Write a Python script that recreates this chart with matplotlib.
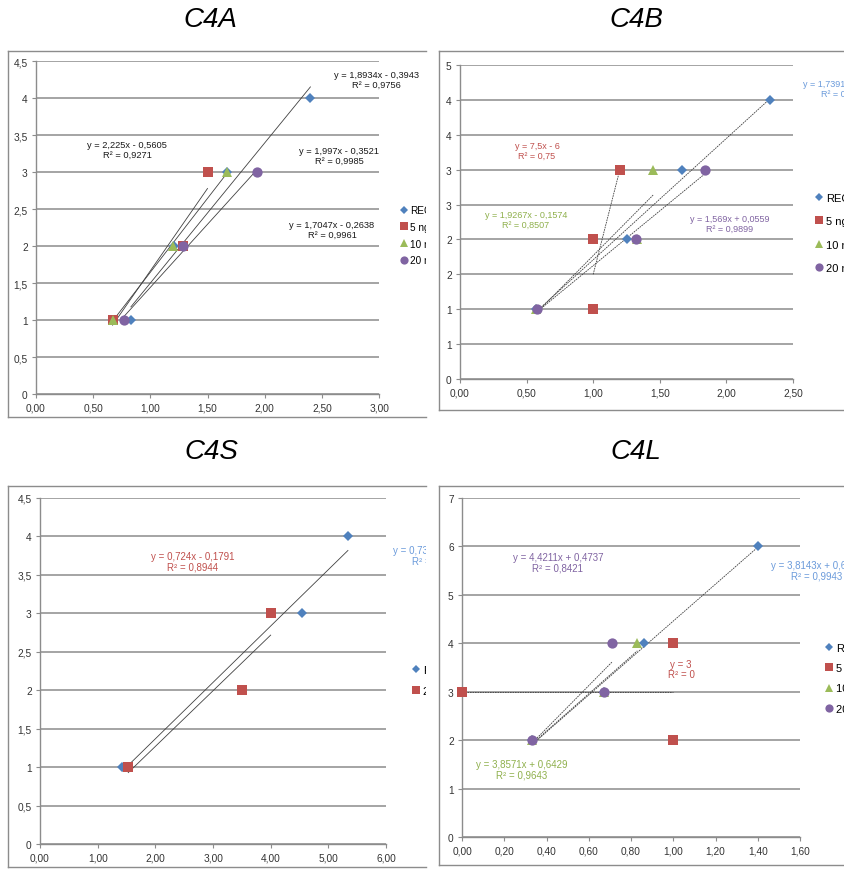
import numpy as np
import matplotlib
matplotlib.use('Agg')
import matplotlib.pyplot as plt

# ---- data ----
names = ['REC', '5 ng/ml', '10 ng/ml', '20 ng/ml']

# C4A
a_x = [[0.83, 1.21, 1.67, 2.40], [0.67, 1.29, 1.50], [0.67, 1.20, 1.67], [0.77, 1.29, 1.93]]
a_y = [[1, 2, 3, 4], [1, 2, 3], [1, 2, 3], [1, 2, 3]]
a_slope = [1.8934, 2.225, 1.997, 1.7047]
a_icpt = [-0.3943, -0.5605, -0.3521, -0.2638]
a_eq = ['y = 1,8934x - 0,3943\nR² = 0,9756', 'y = 2,225x - 0,5605\nR² = 0,9271',
        'y = 1,997x - 0,3521\nR² = 0,9985', 'y = 1,7047x - 0,2638\nR² = 0,9961']

# C4B
b_x = [[0.57, 1.25, 1.67, 2.33], [1.00, 1.00, 1.20], [0.57, 1.33, 1.45], [0.58, 1.32, 1.84]]
b_y = [[1, 2, 3, 4], [1, 2, 3], [1, 2, 3], [1, 2, 3]]
b_slope = [1.7391, 7.5, 1.9267, 1.569]
b_icpt = [-0.0305, -6.0, -0.1574, 0.0559]
b_eq = ['y = 1,7391x - 0,0305\nR² = 0,9924', 'y = 7,5x - 6\nR² = 0,75',
        'y = 1,9267x - 0,1574\nR² = 0,8507', 'y = 1,569x + 0,0559\nR² = 0,9899']

# C4S (REC and 20 ng only)
s_x = [[1.43, 4.54, 5.34], [1.53, 3.50, 4.00]]
s_y = [[1, 3, 4], [1, 2, 3]]
s_slope = [0.7334, 0.724]
s_icpt = [-0.0989, -0.1791]
s_eq = ['y = 0,7334x - 0,0989\nR² = 0,9802', 'y = 0,724x - 0,1791\nR² = 0,8944']
s_names = ['REC', '20 ng/ml']

# C4L
l_x = [[0.33, 0.67, 0.86, 1.40], [0.00, 1.00, 1.00], [0.33, 0.67, 0.83], [0.33, 0.67, 0.71]]
l_y = [[2, 3, 4, 6], [3, 4, 2], [2, 3, 4], [2, 3, 4]]
l_slope = [3.8143, 0.0, 3.8571, 4.4211]
l_icpt = [0.6441, 3.0, 0.6429, 0.4737]
l_eq = ['y = 3,8143x + 0,6441\nR² = 0,9943', 'y = 3\nR² = 0',
        'y = 3,8571x + 0,6429\nR² = 0,9643', 'y = 4,4211x + 0,4737\nR² = 0,8421']

cols = ['#4F81BD', '#C0504D', '#9BBB59', '#8064A2']
eqcols = ['#6B9BDB', '#C0504D', '#8FB04C', '#8064A2']
marks = ['D', 's', '^', 'o']
msz = [4.6, 7.0, 6.5, 7.4]

W, H = 844, 870
fig = plt.figure(figsize=(W/100, H/100), dpi=100)
GRAY = '#8c8c8c'
ARIAL = ['Liberation Sans', 'DejaVu Sans']


def rect(l, t, r, b):
    return [l/W, 1-b/H, (r-l)/W, (b-t)/H]


def panel(frame, box, title, tpos, xmax, xstep, xlab, ymax, ystep, ylab,
          xs, ys, labels, ci, slopes, icpts, eqs, eqpos, eqc,
          fs_tick, fs_eq, fs_leg, legpos, legsp, tls):
    fr = fig.add_axes(rect(*frame))
    fr.set_xticks([]); fr.set_yticks([])
    for s in fr.spines.values():
        s.set_color(GRAY); s.set_linewidth(1.0)
    fr.spines['right'].set_visible(False)
    fr.set_zorder(0)
    ax = fig.add_axes(rect(*box))
    ax.set_zorder(1)
    ax.patch.set_alpha(0)
    fig.text(tpos[0]/W, 1-tpos[1]/H, title, ha='center', va='center', fontsize=20,
             style='italic', family=ARIAL, color='black')

    hs = []
    for k in range(len(xs)):
        xx = np.array([min(xs[k]), max(xs[k])])
        ax.plot(xx, slopes[k]*xx+icpts[k], color='#404040', lw=0.6, ls=tls, zorder=2)
    for k in range(len(xs)):
        j = ci[k]
        h, = ax.plot(xs[k], ys[k], ls='none', marker=marks[j], ms=msz[j], color=cols[j],
                     mew=0, clip_on=False, zorder=3)
        hs.append(h)

    ax.set_xlim(0, xmax); ax.set_ylim(0, ymax)
    xt = np.arange(0, xmax+xstep/2, xstep)
    yt = np.arange(0, ymax+ystep/2, ystep)
    ax.set_xticks(xt, [xlab(v) for v in xt], fontfamily=ARIAL)
    ax.set_yticks(yt, [ylab(v) for v in yt], fontfamily=ARIAL)
    ax.tick_params(direction='out', length=3, width=0.8, color=GRAY, labelcolor='#333333',
                   labelsize=fs_tick, pad=3)
    ax.grid(axis='y', color=GRAY, lw=1.1)
    ax.set_axisbelow(True)
    for sp in ['top', 'right']:
        ax.spines[sp].set_visible(False)
    for sp in ['left', 'bottom']:
        ax.spines[sp].set_color(GRAY); ax.spines[sp].set_linewidth(1.0)

    for k in range(len(xs)):
        x, y, ha = eqpos[k]
        t = fig.text(x/W, 1-y/H, eqs[k], ha=ha, va='center', multialignment='center',
                     fontsize=fs_eq, color=eqc[ci[k]], family=ARIAL, linespacing=1.1)
        t.set_clip_box(fr.bbox); t.set_clip_on(True)

    leg = fr.legend(hs, labels, loc='upper left', bbox_to_anchor=(legpos[0]/W, 1-legpos[1]/H),
                    bbox_transform=fig.transFigure, frameon=False, prop={'family': ARIAL, 'size': fs_leg},
                    handlelength=0.7, handletextpad=0.3, labelspacing=legsp, borderpad=0,
                    borderaxespad=0, markerscale=0.8)
    for o in leg.findobj():
        o.set_clip_box(fr.bbox); o.set_clip_on(True)


d2 = lambda v: f'{v:.2f}'.replace('.', ',')
gen = lambda v: f'{v:g}'.replace('.', ',')
rnd = lambda v: str(int(np.floor(v+0.5)))

panel((8, 52, 426, 418), (36, 62, 379, 395), 'C4A', (210, 20), 3.0, 0.5, d2, 4.5, 0.5, gen,
      a_x, a_y, names, [0, 1, 2, 3], a_slope, a_icpt, a_eq,
      [(376, 80, 'center'), (127, 150, 'center'), (339, 156, 'center'), (332, 230, 'center')],
      ['#1a1a1a']*4, 7.3, 6.7, 7.2, (400, 206), 0.68, '-')

panel((439, 52, 850, 411), (460, 66, 793, 380), 'C4B', (636, 20), 2.5, 0.5, d2, 4.5, 0.5, rnd,
      b_x, b_y, names, [0, 1, 2, 3], b_slope, b_icpt, b_eq,
      [(803, 89, 'left'), (537, 151, 'center'), (526, 220, 'center'), (730, 224, 'center')],
      eqcols, 7.3, 6.5, 8, (815, 194), 1.2, (0, (2, 1)))

panel((8, 487, 426, 868), (40, 499, 386, 845), 'C4S', (211, 452), 6.0, 1.0, d2, 4.5, 0.5, gen,
      s_x, s_y, s_names, [0, 1], s_slope, s_icpt, s_eq,
      [(393, 556, 'left'), (193, 562, 'center')],
      eqcols, 7.3, 7, 8, (412, 666), 0.95, '-')

panel((439, 487, 850, 866), (462, 499, 800, 838), 'C4L', (636, 452), 1.6, 0.2, d2, 7, 1, gen,
      l_x, l_y, names, [0, 1, 2, 3], l_slope, l_icpt, l_eq,
      [(771, 571, 'left'), (681, 670, 'center'), (522, 770, 'center'), (558, 563, 'center')],
      eqcols, 7.3, 7, 8, (825, 644), 0.92, (0, (2, 1)))

fig.savefig('out.png', dpi=100)
